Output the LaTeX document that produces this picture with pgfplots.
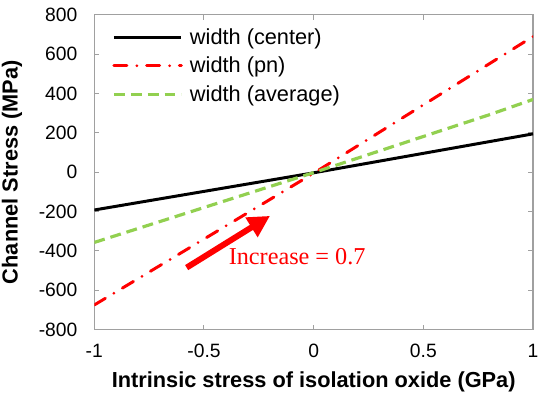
\documentclass[border=0pt]{standalone}
\usepackage{fontspec}
\setmainfont{Liberation Sans}
\newfontfamily\timesfont{Liberation Serif}
\usepackage{pgfplots}
\pgfplotsset{compat=1.18}
\usetikzlibrary{arrows.meta}
\definecolor{xlgreen}{RGB}{146,208,80}
\definecolor{axgray}{RGB}{160,160,160}
\begin{document}
\begin{tikzpicture}
\begin{axis}[
  width=442bp, height=317bp, scale only axis,
  xmin=-1, xmax=1, ymin=-800, ymax=800,
  xtick={-1,-0.5,0,0.5,1},
  ytick={-800,-600,-400,-200,0,200,400,600,800},
  /pgf/number format/assume math mode=true,
  /pgf/number format/.cd, fixed, 1000 sep={}, /pgfplots/.cd,
  tick label style={font=\fontsize{19.5}{22}\selectfont},
  yticklabel style={xshift=-13.5bp},
  xticklabel style={yshift=-11.5bp},
  tick align=inside,
  major tick length=5bp,
  tick style={axgray, line width=1pt},
  axis line style={axgray, line width=1.2pt},
  xlabel={\bfseries Intrinsic stress of isolation oxide (GPa)},
  ylabel={\bfseries Channel Stress (MPa)},
  every axis x label/.style={at={(axis description cs:0.5,0)}, anchor=center, yshift=-53bp},
  every axis y label/.style={at={(axis description cs:0,0.5)}, xshift=-83bp, anchor=center, rotate=90},
  label style={font=\fontsize{22}{25}\selectfont},
  legend style={draw=none, fill=none, at={(axis description cs:0,1)}, anchor=north west,
    xshift=15bp, yshift=-9.5bp,
    font=\fontsize{22}{25}\selectfont, row sep=7.5bp},
  legend cell align=left,
  legend image code/.code={\draw[#1] (0bp,0bp) -- (68bp,0bp); \path (73bp,0bp);},
]
\coordinate (sw) at (rel axis cs:0,0);
\coordinate (ne) at (rel axis cs:1,1);
\addplot[black, line width=3bp] coordinates {(-1,-192) (0,-3) (1,195)};
\addlegendentry{width (center)}
\addplot[red, line width=3bp, line cap=round, dash pattern=on 13bp off 10bp on 0bp off 10bp] coordinates {(-1,-675) (0,-5) (1,690)};
\addlegendentry{width (pn)}
\addplot[xlgreen, line width=3.2bp, dash pattern=on 11bp off 6bp] coordinates {(-1,-357) (0,-2) (0.8,292) (1,370)};
\addlegendentry{width (average)}
\draw[red, line width=6bp, -{Triangle[length=22bp,width=22bp]}] (axis cs:-0.579,-485) -- (axis cs:-0.199,-222);
\node[anchor=west, red, font=\timesfont\fontsize{24.5}{28}\selectfont] at (axis cs:-0.403,-429) {Increase = 0.7};
\end{axis}
\pgfresetboundingbox
\path ([shift={(-95bp,-73bp)}]sw) rectangle ([shift={(6bp,15bp)}]ne);
\end{tikzpicture}
\end{document}
